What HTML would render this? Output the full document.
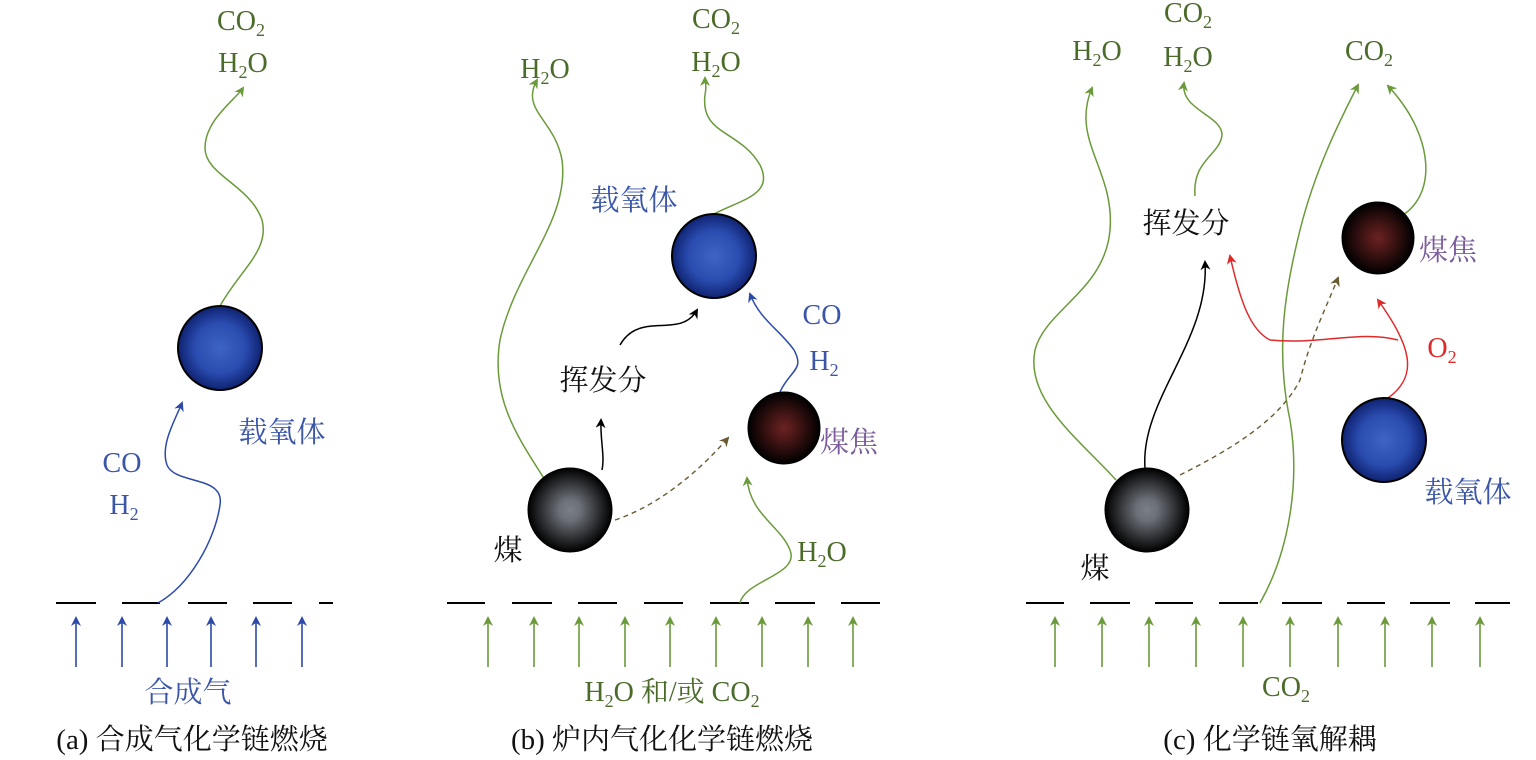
<!DOCTYPE html>
<html><head><meta charset="utf-8"><style>
html,body{margin:0;padding:0;background:#fff;}
svg{display:block}
text{font-family:"Liberation Serif","Noto Serif CJK SC","Noto Sans CJK SC",serif;font-size:28px;text-anchor:middle}
.cj{font-size:29px}
.g{fill:#4b6b2b}.b{fill:#3b56a8}.p{fill:#7b5b9b}.k{fill:#111}.r{fill:#e02a2a}
.sub{font-size:18px}
</style></head><body>
<svg width="1536" height="760" viewBox="0 0 1536 760" xmlns="http://www.w3.org/2000/svg">
<defs>
<radialGradient id="bl"><stop offset="0" stop-color="#3e64c4"/><stop offset="0.6" stop-color="#2a4cb0"/><stop offset="1" stop-color="#0f2270"/></radialGradient>
<radialGradient id="co"><stop offset="0" stop-color="#7a8088"/><stop offset="0.25" stop-color="#6c7078"/><stop offset="1" stop-color="#000"/></radialGradient>
<radialGradient id="ch"><stop offset="0" stop-color="#6a2222"/><stop offset="0.3" stop-color="#4e1818"/><stop offset="1" stop-color="#000"/></radialGradient>
<marker id="ag" markerWidth="10" markerHeight="10" refX="8" refY="5" orient="auto" markerUnits="userSpaceOnUse"><path d="M0,0 L10,5 L0,10 L3,5z" fill="#6a9a3a"/></marker>
<marker id="ab" markerWidth="10" markerHeight="10" refX="8" refY="5" orient="auto" markerUnits="userSpaceOnUse"><path d="M0,0 L10,5 L0,10 L3,5z" fill="#2c4aa8"/></marker>
<marker id="ak" markerWidth="10" markerHeight="10" refX="8" refY="5" orient="auto" markerUnits="userSpaceOnUse"><path d="M0,0 L10,5 L0,10 L3,5z" fill="#000"/></marker>
<marker id="ar" markerWidth="10" markerHeight="10" refX="8" refY="5" orient="auto" markerUnits="userSpaceOnUse"><path d="M0,0 L10,5 L0,10 L3,5z" fill="#e02a2a"/></marker>
<marker id="ao" markerWidth="10" markerHeight="10" refX="8" refY="5" orient="auto" markerUnits="userSpaceOnUse"><path d="M0,0 L10,5 L0,10 L3,5z" fill="#6a5a30"/></marker>
</defs>

<g stroke="#000" stroke-width="2">
<path d="M56 603H96M122 603H160M188 603H227M253 603H292M319 603H333"/>
<path d="M447 603H485M512 603H552M578 603H617M644 603H683M710 603H749M775 603H815M841 603H880"/>
<path d="M1026 603H1064M1090 603H1130M1155 603H1193M1219 603H1258M1282 603H1322M1347 603H1385M1410 603H1450M1475 603H1510"/>
</g>
<g stroke="#2c4aa8" stroke-width="1.6" marker-end="url(#ab)">
<path d="M76 667V618"/><path d="M122 667V618"/><path d="M167 667V618"/><path d="M211 667V618"/><path d="M256 667V618"/><path d="M302 667V618"/>
</g>
<g stroke="#6a9a3a" stroke-width="1.6" marker-end="url(#ag)">
<path d="M488 667V618"/><path d="M534 667V618"/><path d="M579 667V618"/><path d="M625 667V618"/><path d="M670 667V618"/><path d="M716 667V618"/><path d="M762 667V618"/><path d="M808 667V618"/><path d="M853 667V618"/>
<path d="M1055 667V618"/><path d="M1102 667V618"/><path d="M1149 667V618"/><path d="M1196 667V618"/><path d="M1243 667V618"/><path d="M1290 667V618"/><path d="M1338 667V618"/><path d="M1385 667V618"/><path d="M1432 667V618"/><path d="M1480 667V618"/>
</g>

<path d="M158 603 C190 585 215 540 220 505 C225 475 175 485 167 465 C160 445 175 420 182 403" fill="none" stroke="#2c4aa8" stroke-width="1.5" marker-end="url(#ab)"/>
<path d="M220 306 C240 270 270 250 262 220 C250 185 205 175 205 148 C205 120 235 100 243 88" fill="none" stroke="#6a9a3a" stroke-width="1.5" marker-end="url(#ag)"/>
<ellipse cx="220" cy="348" rx="42" ry="42" fill="url(#bl)" stroke="#000" stroke-width="2"/>

<path d="M545 480 C520 440 490 400 500 340 C515 270 570 220 562 160 C555 120 520 110 537 80" fill="none" stroke="#6a9a3a" stroke-width="1.5" marker-end="url(#ag)"/>
<path d="M714 214 C740 200 775 195 760 165 C740 130 700 135 705 95 C707 85 705 80 705 78" fill="none" stroke="#6a9a3a" stroke-width="1.5" marker-end="url(#ag)"/>
<path d="M602 470 C605 455 600 440 601 420" fill="none" stroke="#000" stroke-width="1.5" marker-end="url(#ak)"/>
<path d="M620 345 C640 310 680 340 697 310" fill="none" stroke="#000" stroke-width="1.5" marker-end="url(#ak)"/>
<path d="M780 392 C790 370 805 370 794 350 C780 330 760 320 750 294" fill="none" stroke="#2c4aa8" stroke-width="1.5" marker-end="url(#ab)"/>
<path d="M740 603 C745 580 800 575 790 550 C780 525 750 515 747 478" fill="none" stroke="#6a9a3a" stroke-width="1.5" marker-end="url(#ag)"/>
<path d="M615 520 C660 505 700 470 728 438" fill="none" stroke="#6a5a30" stroke-width="1.4" stroke-dasharray="5,4" marker-end="url(#ao)"/>
<ellipse cx="714" cy="256" rx="42" ry="42" fill="url(#bl)" stroke="#000" stroke-width="2"/>
<ellipse cx="570" cy="510" rx="42" ry="42" fill="url(#co)" stroke="#000" stroke-width="1"/>
<ellipse cx="784" cy="428" rx="36" ry="36" fill="url(#ch)" stroke="#000" stroke-width="1"/>

<path d="M1116 480 C1080 440 1025 400 1035 350 C1045 310 1105 290 1110 230 C1115 170 1070 140 1092 88" fill="none" stroke="#6a9a3a" stroke-width="1.5" marker-end="url(#ag)"/>
<path d="M1195 196 C1192 160 1220 155 1222 135 C1222 115 1180 110 1184 83" fill="none" stroke="#6a9a3a" stroke-width="1.5" marker-end="url(#ag)"/>
<path d="M1260 603 C1290 550 1300 480 1290 420 C1275 350 1285 290 1300 230 C1315 170 1340 120 1358 85" fill="none" stroke="#6a9a3a" stroke-width="1.5" marker-end="url(#ag)"/>
<path d="M1403 215 C1440 190 1430 130 1388 86" fill="none" stroke="#6a9a3a" stroke-width="1.5" marker-end="url(#ag)"/>
<path d="M1145 468 C1140 400 1210 340 1205 262" fill="none" stroke="#000" stroke-width="1.5" marker-end="url(#ak)"/>
<path d="M1180 475 C1230 450 1280 420 1300 380 C1310 340 1325 310 1338 278" fill="none" stroke="#6a5a30" stroke-width="1.4" stroke-dasharray="5,4" marker-end="url(#ao)"/>
<path d="M1388 398 C1420 375 1410 345 1378 300" fill="none" stroke="#e02a2a" stroke-width="1.5" marker-end="url(#ar)"/>
<path d="M1398 340 C1360 330 1320 345 1270 340 C1250 330 1240 300 1230 256" fill="none" stroke="#e02a2a" stroke-width="1.5" marker-end="url(#ar)"/>
<ellipse cx="1147" cy="510" rx="42" ry="42" fill="url(#co)" stroke="#000" stroke-width="1"/>
<ellipse cx="1378" cy="238" rx="36" ry="36" fill="url(#ch)" stroke="#000" stroke-width="1"/>
<ellipse cx="1384" cy="440" rx="42" ry="42" fill="url(#bl)" stroke="#000" stroke-width="2"/>

<text x="241" y="30" class="g">CO<tspan class="sub" dy="6">2</tspan></text>
<text x="243" y="72" class="g">H<tspan class="sub" dy="6">2</tspan><tspan dy="-6">O</tspan></text>
<text x="122" y="472" class="b">CO</text>
<text x="124" y="514" class="b">H<tspan class="sub" dy="6">2</tspan></text>
<text x="282" y="442" class="b cj">载氧体</text>
<text x="188" y="702" class="b cj">合成气</text>
<text x="192" y="749" class="k cj">(a) 合成气化学链燃烧</text>

<text x="545" y="78" class="g">H<tspan class="sub" dy="6">2</tspan><tspan dy="-6">O</tspan></text>
<text x="716" y="28" class="g">CO<tspan class="sub" dy="6">2</tspan></text>
<text x="716" y="71" class="g">H<tspan class="sub" dy="6">2</tspan><tspan dy="-6">O</tspan></text>
<text x="634" y="210" class="b cj">载氧体</text>
<text x="603" y="390" class="k cj">挥发分</text>
<text x="508" y="560" class="k cj">煤</text>
<text x="849" y="452" class="p cj">煤焦</text>
<text x="822" y="324" class="b">CO</text>
<text x="824" y="370" class="b">H<tspan class="sub" dy="6">2</tspan></text>
<text x="822" y="561" class="g">H<tspan class="sub" dy="6">2</tspan><tspan dy="-6">O</tspan></text>
<text x="672" y="701" class="g">H<tspan class="sub" dy="6">2</tspan><tspan dy="-6">O 和/或 CO</tspan><tspan class="sub" dy="6">2</tspan></text>
<text x="662" y="749" class="k cj">(b) 炉内气化化学链燃烧</text>

<text x="1097" y="60" class="g">H<tspan class="sub" dy="6">2</tspan><tspan dy="-6">O</tspan></text>
<text x="1188" y="22" class="g">CO<tspan class="sub" dy="6">2</tspan></text>
<text x="1188" y="66" class="g">H<tspan class="sub" dy="6">2</tspan><tspan dy="-6">O</tspan></text>
<text x="1369" y="60" class="g">CO<tspan class="sub" dy="6">2</tspan></text>
<text x="1186" y="233" class="k cj">挥发分</text>
<text x="1448" y="260" class="p cj">煤焦</text>
<text x="1442" y="357" class="r">O<tspan class="sub" dy="6">2</tspan></text>
<text x="1468" y="502" class="b cj">载氧体</text>
<text x="1095" y="578" class="k cj">煤</text>
<text x="1286" y="696" class="g">CO<tspan class="sub" dy="6">2</tspan></text>
<text x="1270" y="749" class="k cj">(c) 化学链氧解耦</text>
</svg>
</body></html>
